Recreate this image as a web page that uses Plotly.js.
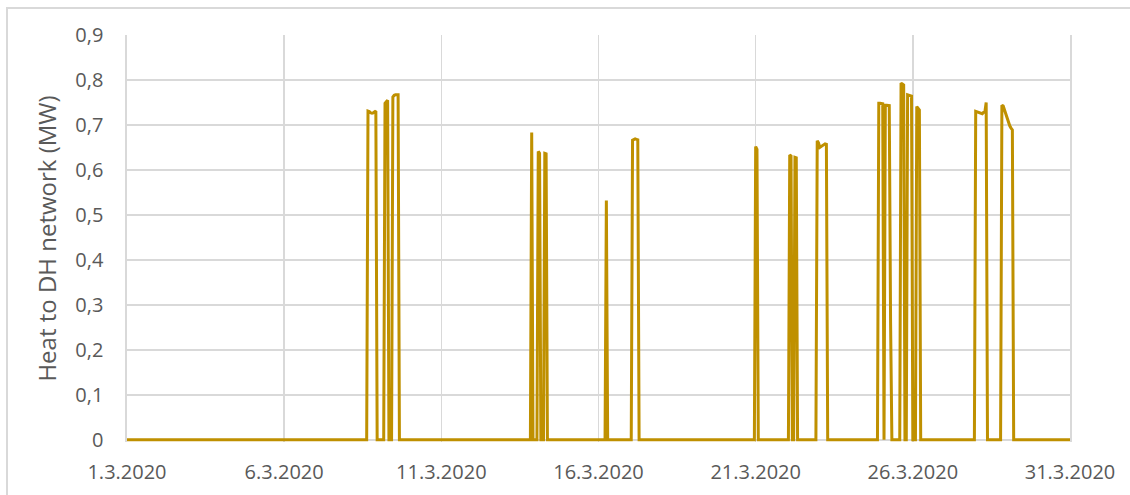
<!DOCTYPE html>
<html>
<head>
<meta charset="utf-8">
<script src="https://cdn.plot.ly/plotly-3.0.1.min.js"></script>
<style>
  html, body { margin: 0; padding: 0; background: #ffffff; }
  #wrap { position: relative; width: 1130px; height: 495px; overflow: hidden; }
  #chart { width: 1130px; height: 495px; }
  #frame { position: absolute; left: 6px; top: 7px; width: 2000px; height: 2000px;
           border-left: 2px solid #d9d9d9; border-top: 2px solid #d9d9d9; pointer-events: none; }
</style>
</head>
<body>
<div id="wrap">
  <div id="chart"></div>
  <div id="frame"></div>
</div>
<script>
// Hourly time stamps where the output changes (zero between episodes)
const times = [
  '2020-03-01 00:00',
  '2020-03-08 15:00','2020-03-08 16:00','2020-03-08 17:00','2020-03-08 18:00','2020-03-08 19:00',
  '2020-03-08 20:00','2020-03-08 21:00','2020-03-08 22:00','2020-03-08 23:00',
  '2020-03-09 04:00','2020-03-09 05:00','2020-03-09 06:00','2020-03-09 07:00','2020-03-09 08:00',
  '2020-03-09 10:00','2020-03-09 11:00','2020-03-09 12:00','2020-03-09 13:00','2020-03-09 14:00',
  '2020-03-09 15:00','2020-03-09 16:00',
  '2020-03-13 20:00','2020-03-13 21:00','2020-03-13 22:00',
  '2020-03-14 01:00','2020-03-14 02:00','2020-03-14 03:00','2020-03-14 04:00',
  '2020-03-14 06:00','2020-03-14 07:00','2020-03-14 08:00','2020-03-14 09:00',
  '2020-03-16 05:00','2020-03-16 06:00','2020-03-16 07:00',
  '2020-03-17 01:00','2020-03-17 02:00','2020-03-17 03:00','2020-03-17 04:00','2020-03-17 05:00',
  '2020-03-17 06:00','2020-03-17 07:00',
  '2020-03-20 23:00','2020-03-21 00:00','2020-03-21 01:00','2020-03-21 02:00',
  '2020-03-22 01:00','2020-03-22 02:00','2020-03-22 03:00','2020-03-22 04:00',
  '2020-03-22 05:00','2020-03-22 06:00','2020-03-22 07:00','2020-03-22 08:00',
  '2020-03-22 22:00','2020-03-22 23:00','2020-03-23 00:00','2020-03-23 01:00','2020-03-23 02:00',
  '2020-03-23 03:00','2020-03-23 04:00','2020-03-23 05:00','2020-03-23 06:00','2020-03-23 07:00',
  '2020-03-24 21:00','2020-03-24 22:00','2020-03-24 23:00','2020-03-25 00:00','2020-03-25 01:00',
  '2020-03-25 02:00','2020-03-25 03:00','2020-03-25 04:00','2020-03-25 05:00','2020-03-25 06:00',
  '2020-03-25 07:00','2020-03-25 08:00',
  '2020-03-25 14:00','2020-03-25 15:00','2020-03-25 16:00','2020-03-25 17:00','2020-03-25 18:00',
  '2020-03-25 19:00','2020-03-25 20:00','2020-03-25 21:00','2020-03-25 22:00','2020-03-25 23:00',
  '2020-03-26 00:00',
  '2020-03-26 02:00','2020-03-26 03:00','2020-03-26 04:00','2020-03-26 05:00','2020-03-26 06:00',
  '2020-03-27 23:00','2020-03-28 00:00','2020-03-28 01:00','2020-03-28 02:00','2020-03-28 03:00',
  '2020-03-28 04:00','2020-03-28 05:00','2020-03-28 06:00','2020-03-28 07:00','2020-03-28 08:00',
  '2020-03-28 09:00',
  '2020-03-28 19:00','2020-03-28 20:00','2020-03-28 21:00','2020-03-28 22:00','2020-03-28 23:00',
  '2020-03-29 00:00','2020-03-29 01:00','2020-03-29 02:00','2020-03-29 03:00','2020-03-29 04:00',
  '2020-03-29 05:00',
  '2020-03-31 00:00'
];
const heatMW = [
  0,
  0, 0.731, 0.730, 0.727, 0.726,
  0.727, 0.729, 0.731, 0,
  0, 0.748, 0.753, 0.755, 0,
  0, 0.762, 0.766, 0.767, 0.767,
  0.767, 0,
  0, 0.683, 0,
  0, 0.641, 0.637, 0,
  0, 0.637, 0.636, 0,
  0, 0.532, 0,
  0, 0.666, 0.668, 0.669, 0.668,
  0.667, 0,
  0, 0.652, 0.646, 0,
  0, 0.633, 0.631, 0,
  0, 0.628, 0.627, 0,
  0, 0.665, 0.660, 0.650, 0.652,
  0.656, 0.658, 0.658, 0.657, 0,
  0, 0.748, 0.748, 0.748, 0.747,
  0, 0.744, 0.744, 0.743, 0.743,
  0.263, 0,
  0, 0.793, 0.791, 0.789, 0,
  0, 0.767, 0.766, 0.765, 0.764,
  0,
  0, 0.741, 0.737, 0.733, 0,
  0, 0.730, 0.729, 0.728, 0.727,
  0.726, 0.725, 0.728, 0.729, 0.750,
  0,
  0, 0.744, 0.742, 0.733, 0.722,
  0.712, 0.704, 0.698, 0.693, 0.689,
  0,
  0
];
const xTickVals = ['2020-03-01','2020-03-06','2020-03-11','2020-03-16','2020-03-21','2020-03-26','2020-03-31'];
const xTickText = ['1.3.2020','6.3.2020','11.3.2020','16.3.2020','21.3.2020','26.3.2020','31.3.2020'];
const yTickVals = [0, 0.1, 0.2, 0.3, 0.4, 0.5, 0.6, 0.7, 0.8, 0.9];
const yTickText = ['0','0,1','0,2','0,3','0,4','0,5','0,6','0,7','0,8','0,9'];
const yTitle = 'Heat to DH network (MW)';

const FONT = '"Open Sans", "Noto Sans", sans-serif';
const GREY = '#595959';
const GRID = '#d9d9d9';

const trace = {
  type: 'scatter', mode: 'lines',
  x: times, y: heatMW,
  line: { color: '#bf9000', width: 3, shape: 'linear' },
  hoverinfo: 'x+y', showlegend: false
};

const pad = '\u00a0'.repeat(9);

const layout = {
  width: 1130, height: 495,
  margin: { l: 127, r: 60, t: 35, b: 53 },
  paper_bgcolor: 'rgba(0,0,0,0)', plot_bgcolor: '#ffffff',
  font: { family: FONT, size: 20, color: GREY },
  showlegend: false,
  xaxis: {
    type: 'date',
    range: ['2020-03-01 00:00', '2020-03-31 00:00'],
    tickmode: 'array', tickvals: xTickVals, ticktext: xTickText,
    showgrid: true, gridcolor: GRID, gridwidth: 1.6,
    zeroline: false, showline: false, ticks: '',
    ticklabelstandoff: 16,
    tickfont: { family: FONT, size: 20, color: GREY }
  },
  yaxis: {
    range: [-0.005, 0.9],
    tickmode: 'array', tickvals: yTickVals, ticktext: yTickText,
    showgrid: true, gridcolor: GRID, gridwidth: 1.6,
    zeroline: false, showline: true, mirror: true, linecolor: GRID, linewidth: 1.6,
    ticks: '', ticklabelstandoff: 18,
    tickfont: { family: FONT, size: 20, color: GREY },
    title: { text: pad + yTitle, font: { family: FONT, size: 24, color: GREY }, standoff: 12 }
  }
};

Plotly.newPlot('chart', [trace], layout, { displayModeBar: false, staticPlot: true });
</script>
</body>
</html>
